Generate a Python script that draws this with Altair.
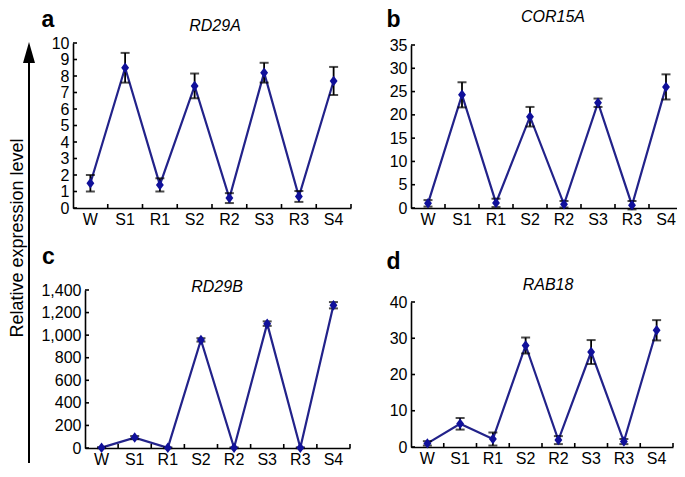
import altair as alt
import pandas as pd

cats = ["W", "S1", "R1", "S2", "R2", "S3", "R3", "S4"]

a_mean = [1.5, 8.5, 1.4, 7.4, 0.6, 8.2, 0.7, 7.7]
a_err = [0.5, 0.9, 0.4, 0.75, 0.3, 0.6, 0.33, 0.85]
b_mean = [1.0, 24.3, 1.1, 19.6, 0.8, 22.6, 0.6, 26.0]
b_err = [0.7, 2.7, 0.9, 2.1, 0.7, 0.9, 0.9, 2.7]
c_mean = [3, 92, 2, 958, 2, 1102, 2, 1265]
c_err = [5, 14, 4, 15, 4, 20, 4, 28]
d_mean = [1.0, 6.4, 2.2, 28.0, 1.9, 26.2, 1.5, 32.2]
d_err = [0.6, 1.6, 1.8, 2.2, 1.1, 3.3, 0.7, 2.8]

a_ticks = [0, 1, 2, 3, 4, 5, 6, 7, 8, 9, 10]
b_ticks = [0, 5, 10, 15, 20, 25, 30, 35]
c_ticks = [0, 200, 400, 600, 800, 1000, 1200, 1400]
d_ticks = [0, 10, 20, 30, 40]

genes = ["RD29A", "COR15A", "RD29B", "RAB18"]
letters = ["a", "b", "c", "d"]
ylabel = "Relative expression level"

FONT = "Liberation Sans"
LINE = "#22228a"
MARK = "#10109a"
one = pd.DataFrame({"k": [0]})

CW, CH = 278, 165  # cell size (plot area)


def panel(mean, err, ticks, fmt, letter, gene, x0, x1, y0, y1, lxy, gxy, extra=()):
    # x0..x1, y0..y1 : plot region inside the cell (pixels)
    df = pd.DataFrame({
        "cat": cats,
        "mean": mean,
        "lo": [m - e for m, e in zip(mean, err)],
        "hi": [m + e for m, e in zip(mean, err)],
    })
    xs = alt.Scale(type="band", paddingInner=0, paddingOuter=0, range=[x0, x1])
    xa = alt.Axis(title=None, labelAngle=0, ticks=False, grid=False,
                  labelFontSize=16, labelPadding=3, labelColor="black",
                  domainColor="black", domainWidth=1.6, offset=y1 - CH)
    ys = alt.Scale(domain=[0, max(ticks)], nice=False, zero=True, range=[y1, y0])
    ya = alt.Axis(title=None, values=ticks, format=fmt, ticks=False, grid=False,
                  labelFontSize=16, labelPadding=4, labelColor="black",
                  domainColor="black", domainWidth=1.6, offset=-x0)

    def X(**kw):
        return alt.X("cat:N", sort=cats, scale=xs, axis=xa, **kw)

    def Y(f):
        return alt.Y(f, scale=ys, axis=ya)

    base = alt.Chart(df)
    line = base.mark_line(color=LINE, strokeWidth=2.2).encode(x=X(), y=Y("mean:Q"))
    bar = base.mark_rule(color="black", strokeWidth=1.8).encode(x=X(), y=Y("lo:Q"), y2="hi:Q")
    cap1 = base.mark_tick(color="black", thickness=2, size=9, orient="horizontal").encode(x=X(), y=Y("lo:Q"))
    cap2 = base.mark_tick(color="black", thickness=2, size=9, orient="horizontal").encode(x=X(), y=Y("hi:Q"))
    pts = base.mark_point(shape="M0,-1L0.75,0L0,1L-0.75,0Z", size=110, filled=True,
                          color=MARK, opacity=1).encode(x=X(), y=Y("mean:Q"))
    xt = alt.Chart(pd.DataFrame({"cat": cats})).mark_rule(color="black", strokeWidth=1.6).encode(
        x=X(bandPosition=1), y=alt.value(y1), y2=alt.value(y1 - 4))
    yt = alt.Chart(pd.DataFrame({"v": ticks})).mark_rule(color="black", strokeWidth=1.6).encode(
        y=Y("v:Q"), x=alt.value(x0), x2=alt.value(x0 + 4))
    lt = alt.Chart(one).mark_text(text=letter, fontSize=23, fontWeight="bold", color="black",
                                  align="center", baseline="alphabetic").encode(
        x=alt.value(lxy[0]), y=alt.value(lxy[1]))
    gt = alt.Chart(one).mark_text(text=gene, fontSize=16, fontStyle="italic", color="black",
                                  align="center", baseline="alphabetic").encode(
        x=alt.value(gxy[0]), y=alt.value(gxy[1]))
    layers = [line, bar, cap1, cap2, pts, xt, yt, lt, gt] + list(extra)
    return alt.layer(*layers).properties(width=CW, height=CH)


arrow_line = alt.Chart(one).mark_rule(color="black", strokeWidth=2).encode(
    x=alt.value(-44), y=alt.value(12), y2=alt.value(420))
arrow_head = alt.Chart(one).mark_point(shape="M0,-1L0.57,1L-0.57,1Z", size=441, filled=True,
                                       color="black", opacity=1, strokeWidth=0).encode(
    x=alt.value(-44), y=alt.value(9.5))
ytext = alt.Chart(one).mark_text(text=ylabel, angle=270, fontSize=18, color="black",
                                 align="center", baseline="middle").encode(
    x=alt.value(-55), y=alt.value(195))

# cell a origin on page: (73, 43); cell b origin: (411, 43)
# cell c origin: (73, 290); cell d origin: (411, 290)
pa = panel(a_mean, a_err, a_ticks, "d", letters[0], genes[0], 0, 278, 0, 165,
           (-25, -16), (142, -12), extra=[arrow_line, arrow_head, ytext])
pb = panel(b_mean, b_err, b_ticks, "d", letters[1], genes[1], 0, 272, 2, 165,
           (-17.5, -16), (142, -21))
pc = panel(c_mean, c_err, c_ticks, ",d", letters[2], genes[2], 12, 277, 0, 158,
           (-24.5, -26), (144, 2))
pd_ = panel(d_mean, d_err, d_ticks, "d", letters[3], genes[3], 0, 262, 12, 157,
            (-17.5, -21), (137, 0))

chart = alt.concat(pa, pb, pc, pd_, columns=2, spacing={"row": 82, "column": 60},
                   bounds="flush").properties(
    autosize=alt.AutoSizeParams(type="none"),
    padding={"left": 65, "top": 35, "right": 604, "bottom": 426},
).configure_view(stroke=None).configure_axis(labelFont=FONT).configure_text(font=FONT)

chart.save("out.html", embed_options={"renderer": "svg", "actions": False})
